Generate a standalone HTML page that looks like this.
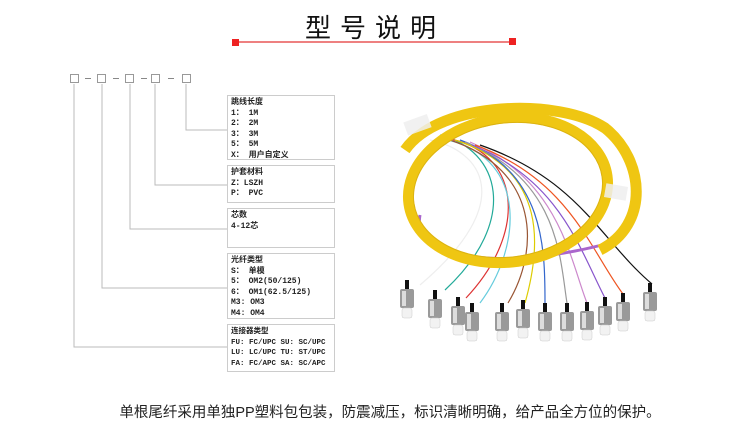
<!DOCTYPE html>
<html><head><meta charset="utf-8"><style>
body{margin:0;width:750px;height:437px;background:#fff;position:relative;overflow:hidden;font-family:"Liberation Sans","Noto Sans CJK SC",sans-serif;}
.t{position:absolute;left:0;top:8px;width:750px;text-align:center;font-family:"Noto Sans CJK SC",sans-serif;font-size:26px;letter-spacing:9px;color:#111;}
.panel{position:absolute;left:227px;width:108px;border:1px solid #ccc;box-sizing:border-box;padding:2px 0 0 3px;font-size:8px;line-height:10.5px;color:#222;font-weight:bold;font-family:"Liberation Mono","Noto Sans CJK SC",monospace;}
.sq{position:absolute;top:74px;width:9px;height:9px;border:1px solid #999;box-sizing:border-box;}
.d{position:absolute;top:78px;width:6px;height:1px;background:#888;}
.cap{position:absolute;top:401px;left:0;width:780px;text-align:center;font-size:14.5px;color:#222;}
</style></head><body>
<div class="t">型号说明</div>
<svg width="750" height="437" style="position:absolute;left:0;top:0">
<line x1="237" y1="42" x2="512" y2="42" stroke="#d00" stroke-width="1"/>
<rect x="232" y="39" width="7" height="7" fill="#e22"/>
<rect x="509" y="38" width="7" height="7" fill="#e22"/>
<g stroke="#bbb" fill="none" stroke-width="1">
<polyline points="74,84 74,347 227,347"/>
<polyline points="102,84 102,288 227,288"/>
<polyline points="130,84 130,229 227,229"/>
<polyline points="155,84 155,185 227,185"/>
<polyline points="186,84 186,130 227,130"/>
</g>
<g fill="none" stroke-width="1.2">
<path d="M430,140 C480,150 520,200 420,285" stroke="#eee"/>
<path d="M440,135 C500,150 520,220 445,290" stroke="#2a9"/>
<path d="M445,138 C520,150 530,230 466,298" stroke="#d33"/>
<path d="M448,140 C530,160 520,250 480,303" stroke="#6cd"/>
<path d="M450,140 C540,170 540,250 508,303" stroke="#953"/>
<path d="M455,140 C550,170 540,250 525,303" stroke="#dc0"/>
<path d="M460,140 C545,170 545,250 545,303" stroke="#36c"/>
<path d="M465,142 C560,180 560,260 567,303" stroke="#999"/>
<path d="M470,142 C560,180 570,260 587,303" stroke="#c8c"/>
<path d="M472,145 C560,180 580,250 605,298" stroke="#85c"/>
<path d="M475,145 C570,180 590,250 623,294" stroke="#e52"/>
<path d="M480,145 C580,180 600,240 652,284" stroke="#111"/>
<path d="M420,215 C410,265 520,270 620,240" stroke="#a6c" stroke-width="3"/>
</g>
<g fill="none" stroke="#efc612" stroke-width="11">
<ellipse cx="508" cy="190" rx="100" ry="72" transform="rotate(-8 508 190)"/>
<path d="M405,150 C440,100 560,98 605,128 C645,160 650,225 600,250"/>
</g>
<g fill="none" stroke="#c9a010" stroke-width="1" opacity=".5">
<ellipse cx="508" cy="190" rx="95" ry="67" transform="rotate(-8 508 190)"/>
</g>
<rect x="405" y="118" width="25" height="14" fill="#eee" opacity=".85" transform="rotate(-20 417 125)"/>
<rect x="605" y="185" width="22" height="14" fill="#eee" opacity=".85" transform="rotate(10 616 192)"/>
</svg>
<svg width="750" height="437" style="position:absolute;left:0;top:0">
<defs><g id="con"><rect x="-2" y="0" width="4" height="10" fill="#111"/><rect x="-7" y="9" width="14" height="19" rx="2" fill="#9a9a9a"/><rect x="-5" y="11" width="4" height="15" fill="#ddd"/><rect x="-5" y="28" width="10" height="10" rx="2" fill="#f2f2f2" stroke="#ccc" stroke-width=".5"/></g></defs>
<use href="#con" x="407" y="280"/><use href="#con" x="435" y="290"/><use href="#con" x="458" y="297"/><use href="#con" x="472" y="303"/><use href="#con" x="502" y="303"/><use href="#con" x="523" y="300"/><use href="#con" x="545" y="303"/><use href="#con" x="567" y="303"/><use href="#con" x="587" y="302"/><use href="#con" x="605" y="297"/><use href="#con" x="623" y="293"/><use href="#con" x="650" y="283"/>
</svg>
<div class="sq" style="left:70px"></div><div class="d" style="left:85px"></div>
<div class="sq" style="left:97px"></div><div class="d" style="left:113px"></div>
<div class="sq" style="left:125px"></div><div class="d" style="left:141px"></div>
<div class="sq" style="left:151px"></div><div class="d" style="left:168px"></div>
<div class="sq" style="left:182px"></div>
<div class="panel" style="top:95px;height:65px">跳线长度<br>1： 1M<br>2： 2M<br>3： 3M<br>5： 5M<br>X： 用户自定义</div>
<div class="panel" style="top:165px;height:38px">护套材料<br>Z：LSZH<br>P： PVC</div>
<div class="panel" style="top:208px;height:40px">芯数<br>4-12芯</div>
<div class="panel" style="top:253px;height:66px">光纤类型<br>S： 单模<br>5： OM2(50/125)<br>6： OM1(62.5/125)<br>M3: OM3<br>M4: OM4</div>
<div class="panel" style="top:324px;height:48px;font-size:7.5px">连接器类型<br>FU: FC/UPC SU: SC/UPC<br>LU: LC/UPC TU: ST/UPC<br>FA: FC/APC SA: SC/APC</div>
<div class="cap">单根尾纤采用单独PP塑料包包装，防震减压，标识清晰明确，给产品全方位的保护。</div>
</body></html>
